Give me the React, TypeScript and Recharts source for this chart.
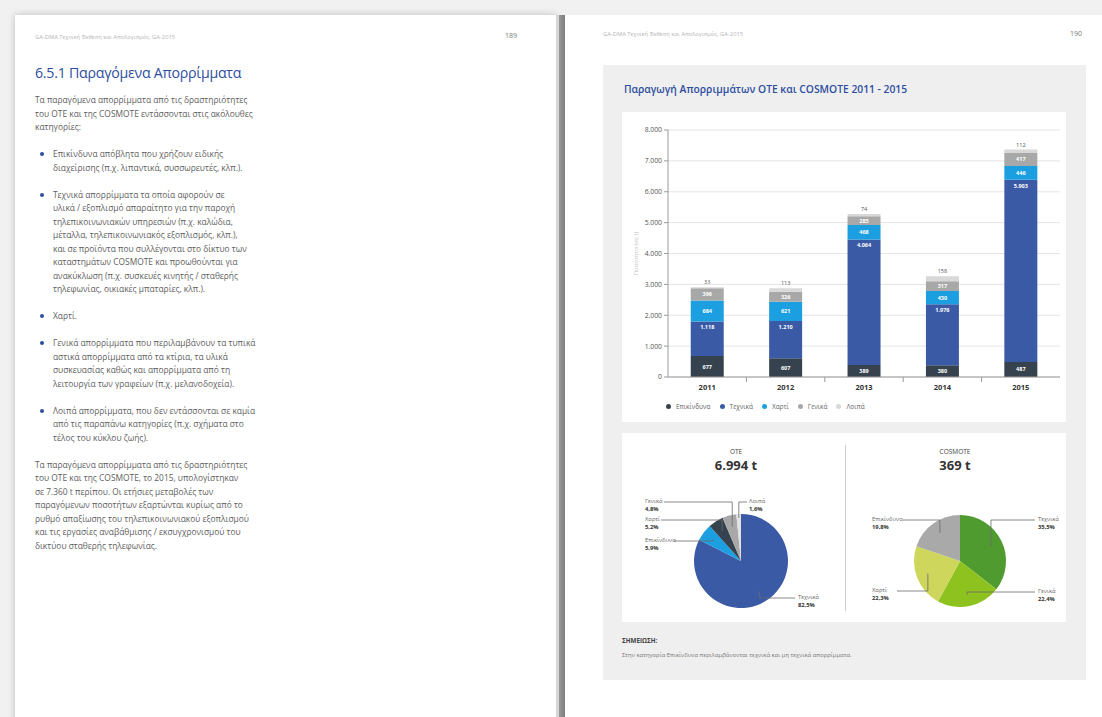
import React from 'react';
import {
  BarChart, Bar, XAxis, YAxis, CartesianGrid, Legend, LabelList,
  PieChart, Pie, Cell,
} from 'recharts';

// ---------- data ----------
const years = ['2011', '2012', '2013', '2014', '2015'];
const hazardous = [677, 607, 389, 380, 487];
const technical = [1118, 1210, 4064, 1976, 5903];
const paper = [684, 621, 468, 430, 446];
const general = [396, 326, 285, 317, 417];
const other = [33, 113, 74, 158, 112];
const yTicks = [0, 1000, 2000, 3000, 4000, 5000, 6000, 7000, 8000];

const seriesNames = ['Επικίνδυνα', 'Τεχνικά', 'Χαρτί', 'Γενικά', 'Λοιπά'];
const seriesColors = ['#36434f', '#3b5aa6', '#1b9fe0', '#a8a8a8', '#d8d8d8'];

const oteNames = ['Τεχνικά', 'Επικίνδυνα', 'Χαρτί', 'Γενικά', 'Λοιπά'];
const oteShares = [82.5, 5.9, 5.2, 4.8, 1.6];
const oteColors = ['#3b5aa6', '#1b9fe0', '#36434f', '#a8a8a8', '#e2e2e2'];
const oteTotal = '6.994 t';

const cosNames = ['Τεχνικά', 'Γενικά', 'Χαρτί', 'Επικίνδυνα'];
const cosShares = [35.5, 22.4, 22.3, 19.8];
const cosColors = ['#4f9b2f', '#8dc21f', '#cfd65c', '#a9a9a9'];
const cosTotal = '369 t';

// label layout (relative to pie centre)
const oteLabelLayout = [
  { r: 0.75, ly: 37, lx: 54, tx: 57 },
  { r: 0.75, ly: -20, lx: -67, tx: -96 },
  { r: 0.75, ly: -41, lx: -80, tx: -96 },
  { r: 0.75, ly: -59, lx: -77, tx: -96 },
  { r: 0.92, ly: -59, lx: 6, tx: 8 },
];
const cosLabelLayout = [
  { r: 0.75, ly: -41, lx: 75, tx: 78 },
  { r: 0.75, ly: 31, lx: 75, tx: 78 },
  { r: 0.75, ly: 30, lx: -63, tx: -88 },
  { r: 0.75, ly: -41, lx: -57, tx: -88 },
];

const fmt = (v: any) => {
  const n = Number(v);
  if (n >= 1000) return `${Math.floor(n / 1000)}.${String(n % 1000).padStart(3, '0')}`;
  return String(n);
};
const pct = (v: number) => `${v.toFixed(1).replace('.', ',')}%`;

const barData = years.map((y, i) => ({
  year: y,
  haz: hazardous[i],
  tech: technical[i],
  paper: paper[i],
  gen: general[i],
  other: other[i],
}));
const oteData = oteNames.map((n, i) => ({ name: n, value: oteShares[i] }));
const cosData = cosNames.map((n, i) => ({ name: n, value: cosShares[i] }));

const FONT = '"Open Sans", "Noto Sans", sans-serif';

const makePieLabel = (layout: any[], names: string[]) => (props: any) => {
  const { cx, cy, midAngle, outerRadius, index, value } = props;
  const L = layout[index];
  const RAD = Math.PI / 180;
  const r = outerRadius * L.r;
  const px = cx + r * Math.cos(-midAngle * RAD);
  const py = cy + r * Math.sin(-midAngle * RAD);
  const ly = cy + L.ly;
  const lx = cx + L.lx;
  const tx = cx + L.tx;
  return (
    <g key={`l-${index}`}>
      <polyline
        points={`${px},${py} ${px},${ly} ${lx},${ly}`}
        stroke="#6a6a6a"
        strokeWidth={0.8}
        fill="none"
      />
      <text x={tx} y={ly + 1} fontSize={5.8} fill="#666" fontFamily={FONT}>
        {names[index]}
      </text>
      <text x={tx} y={ly + 9} fontSize={5.8} fontWeight={700} fill="#333" fontFamily={FONT}>
        {pct(value)}
      </text>
    </g>
  );
};

const YearTick = (props: any) => {
  const { x, y, payload, index, width, visibleTicksCount } = props;
  const band = width / (visibleTicksCount || years.length);
  const bx = x + band / 2;
  return (
    <g>
      <text x={x} y={y} dy="0.71em" textAnchor="middle" fontSize={7.5} fontWeight={700} fill="#333" fontFamily={FONT}>
        {payload.value}
      </text>
      {index < (visibleTicksCount || years.length) - 1 && (
        <line x1={bx} x2={bx} y1={y - 8} y2={y - 3} stroke="#9a9a9a" strokeWidth={1} />
      )}
    </g>
  );
};

const renderLegend = () => (
  <div style={{ display: 'flex', alignItems: 'center', fontFamily: FONT, fontSize: 6.5, color: '#666' }}>
    {seriesNames.map((n, i) => (
      <div key={n} style={{ display: 'flex', alignItems: 'center', marginRight: 9 }}>
        <span
          style={{
            width: 5, height: 5, borderRadius: '50%', background: seriesColors[i],
            display: 'inline-block', marginRight: 5,
          }}
        />
        <span>{n}</span>
      </div>
    ))}
  </div>
);

const abs = (left: number, top: number, extra: any = {}) => ({ position: 'absolute' as const, left, top, ...extra });

const leftBlocks: { bullet: boolean; lines: string[] }[] = [
  {
    bullet: false,
    lines: [
      'Τα παραγόμενα απορρίμματα από τις δραστηριότητες',
      'του ΟΤΕ και της COSMOTE εντάσσονται στις ακόλουθες',
      'κατηγορίες:',
    ],
  },
  {
    bullet: true,
    lines: [
      'Επικίνδυνα απόβλητα που χρήζουν ειδικής',
      'διαχείρισης (π.χ. λιπαντικά, συσσωρευτές, κλπ.).',
    ],
  },
  {
    bullet: true,
    lines: [
      'Τεχνικά απορρίμματα τα οποία αφορούν σε',
      'υλικά / εξοπλισμό απαραίτητο για την παροχή',
      'τηλεπικοινωνιακών υπηρεσιών (π.χ. καλώδια,',
      'μέταλλα, τηλεπικοινωνιακός εξοπλισμός, κλπ.),',
      'και σε προϊόντα που συλλέγονται στο δίκτυο των',
      'καταστημάτων COSMOTE και προωθούνται για',
      'ανακύκλωση (π.χ. συσκευές κινητής / σταθερής',
      'τηλεφωνίας, οικιακές μπαταρίες, κλπ.).',
    ],
  },
  { bullet: true, lines: ['Χαρτί.'] },
  {
    bullet: true,
    lines: [
      'Γενικά απορρίμματα που περιλαμβάνουν τα τυπικά',
      'αστικά απορρίμματα από τα κτίρια, τα υλικά',
      'συσκευασίας καθώς και απορρίμματα από τη',
      'λειτουργία των γραφείων (π.χ. μελανοδοχεία).',
    ],
  },
  {
    bullet: true,
    lines: [
      'Λοιπά απορρίμματα, που δεν εντάσσονται σε καμία',
      'από τις παραπάνω κατηγορίες (π.χ. σχήματα στο',
      'τέλος του κύκλου ζωής).',
    ],
  },
  {
    bullet: false,
    lines: [
      'Τα παραγόμενα απορρίμματα από τις δραστηριότητες',
      'του ΟΤΕ και της COSMOTE, το 2015, υπολογίστηκαν',
      'σε 7.360 t περίπου. Οι ετήσιες μεταβολές των',
      'παραγόμενων ποσοτήτων εξαρτώνται κυρίως από το',
      'ρυθμό απαξίωσης του τηλεπικοινωνιακού εξοπλισμού',
      'και τις εργασίες αναβάθμισης / εκσυγχρονισμού του',
      'δικτύου σταθερής τηλεφωνίας.',
    ],
  },
];

const LH = 13.5;
const GAP = 27;

function LeftText() {
  let y = 100; // centre of first line
  const out: any[] = [];
  leftBlocks.forEach((b, bi) => {
    const top = y - LH / 2;
    out.push(
      <div key={bi} style={abs(b.bullet ? 53 : 35, top, { lineHeight: `${LH}px`, fontSize: 8.4, color: '#5e5e5e', whiteSpace: 'nowrap' })}>
        {b.bullet && (
          <span style={{ position: 'absolute', left: -13, top: 5, width: 4, height: 4, borderRadius: '50%', background: '#2d4e9f' }} />
        )}
        {b.lines.map((l, i) => <div key={i}>{l}</div>)}
      </div>
    );
    y += (b.lines.length - 1) * LH + GAP;
  });
  return <>{out}</>;
}

export default function App() {
  return (
    <div style={abs(0, 0, { width: 1102, height: 717, overflow: 'hidden', background: '#f1f1f1', fontFamily: FONT })}>
      {/* left page */}
      <div style={abs(15, 15, { width: 541, height: 710, background: '#fff', boxShadow: '0 0 7px rgba(0,0,0,0.22)' })} />
      {/* gutter */}
      <div style={abs(556, 15, { width: 3, height: 710, background: '#d6d6d6' })} />
      <div style={abs(559, 15, { width: 6, height: 710, background: 'linear-gradient(to right, #9a9a9a, #7c7c7c)' })} />
      {/* right page */}
      <div style={abs(565, 15, { width: 537, height: 710, background: '#fff' })} />

      {/* headers */}
      <div style={abs(35, 33, { fontSize: 5.8, color: '#b5b5b5', whiteSpace: 'nowrap' })}>GA-DMA Τεχνική Έκθεση και Απολογισμός, GA-2015</div>
      <div style={abs(505, 31, { fontSize: 7, color: '#777' })}>189</div>
      <div style={abs(603, 30, { fontSize: 5.8, color: '#b5b5b5', whiteSpace: 'nowrap' })}>GA-DMA Τεχνική Έκθεση και Απολογισμός, GA-2015</div>
      <div style={abs(1070, 29, { fontSize: 7, color: '#777' })}>190</div>

      {/* left page content */}
      <div style={abs(35, 63, { fontSize: 14.2, color: '#2d4e9f', whiteSpace: 'nowrap', letterSpacing: -0.25 })}>6.5.1 Παραγόμενα Απορρίμματα</div>
      <LeftText />

      {/* right panel */}
      <div style={abs(603, 65, { width: 483, height: 615, background: '#efefef' })} />
      <div style={abs(624, 82, { fontSize: 10.3, fontWeight: 600, color: '#2d4e9f', whiteSpace: 'nowrap' })}>
        Παραγωγή Απορριμμάτων OTE και COSMOTE 2011 - 2015
      </div>

      {/* bar card */}
      <div style={abs(622, 112, { width: 444, height: 310, background: '#fff' })}>
        <BarChart
          width={444}
          height={310}
          data={barData}
          margin={{ top: 18, right: 6, left: 0, bottom: 4 }}
          barCategoryGap="29%"
        >
          <CartesianGrid vertical={false} stroke="#e4e4e4" />
          <XAxis
            dataKey="year"
            height={24}
            axisLine={{ stroke: '#9a9a9a' }}
            tickLine={false}
            tick={<YearTick />}
          />
          <YAxis
            width={46}
            domain={[0, 8000]}
            ticks={yTicks}
            tickFormatter={fmt}
            axisLine={{ stroke: '#9a9a9a' }}
            tickLine={{ stroke: '#9a9a9a' }}
            tickSize={4}
            tick={{ fontSize: 6.8, fill: '#555', fontFamily: FONT }}
            label={{ value: 'Ποσότητα (σε t)', angle: -90, position: 'insideLeft', offset: 14, fontSize: 6, fill: '#c4c4c4', style: { textAnchor: 'middle' } }}
          />
          <Legend
            verticalAlign="bottom"
            align="left"
            wrapperStyle={{ left: 44, bottom: 3, height: 17 }}
            content={renderLegend}
          />
          <Bar dataKey="haz" name={seriesNames[0]} stackId="a" fill={seriesColors[0]} isAnimationActive={false}>
            <LabelList dataKey="haz" position="center" formatter={fmt} fill="#fff" fontSize={5.5} fontWeight={700} />
          </Bar>
          <Bar dataKey="tech" name={seriesNames[1]} stackId="a" fill={seriesColors[1]} isAnimationActive={false}>
            <LabelList dataKey="tech" position="insideTop" offset={4} formatter={fmt} fill="#fff" fontSize={5.5} fontWeight={700} />
          </Bar>
          <Bar dataKey="paper" name={seriesNames[2]} stackId="a" fill={seriesColors[2]} isAnimationActive={false}>
            <LabelList dataKey="paper" position="center" formatter={fmt} fill="#fff" fontSize={5.5} fontWeight={700} />
          </Bar>
          <Bar dataKey="gen" name={seriesNames[3]} stackId="a" fill={seriesColors[3]} isAnimationActive={false}>
            <LabelList dataKey="gen" position="center" formatter={fmt} fill="#fff" fontSize={5.5} fontWeight={700} />
          </Bar>
          <Bar dataKey="other" name={seriesNames[4]} stackId="a" fill={seriesColors[4]} isAnimationActive={false}>
            <LabelList dataKey="other" position="top" offset={3} formatter={fmt} fill="#555" fontSize={5.5} />
          </Bar>
        </BarChart>
      </div>

      {/* pie card */}
      <div style={abs(622, 433, { width: 444, height: 189, background: '#fff' })} />
      <div style={abs(845, 445, { width: 1, height: 166, background: '#cfcfcf' })} />

      <div style={abs(686, 447, { width: 100, textAlign: 'center', fontSize: 6.5, color: '#444' })}>OTE</div>
      <div style={abs(686, 456, { width: 100, textAlign: 'center', fontSize: 13, fontWeight: 700, color: '#333' })}>{oteTotal}</div>
      <div style={abs(905, 447, { width: 100, textAlign: 'center', fontSize: 6.5, color: '#444' })}>COSMOTE</div>
      <div style={abs(905, 456, { width: 100, textAlign: 'center', fontSize: 13, fontWeight: 700, color: '#333' })}>{cosTotal}</div>

      <div style={abs(625, 433)}>
        <PieChart width={220} height={189}>
          <Pie
            data={oteData}
            dataKey="value"
            cx={111}
            cy={123}
            outerRadius={47}
            startAngle={90}
            endAngle={-270}
            stroke="none"
            labelLine={false}
            label={makePieLabel(oteLabelLayout, oteNames)}
            isAnimationActive={false}
          >
            {oteData.map((d, i) => <Cell key={d.name} fill={oteColors[i]} />)}
          </Pie>
        </PieChart>
      </div>
      <div style={abs(846, 433)}>
        <PieChart width={220} height={189}>
          <Pie
            data={cosData}
            dataKey="value"
            cx={109}
            cy={123}
            outerRadius={46}
            startAngle={90}
            endAngle={-270}
            stroke="none"
            labelLine={false}
            label={makePieLabel(cosLabelLayout, cosNames)}
            isAnimationActive={false}
          >
            {cosData.map((d, i) => <Cell key={d.name} fill={cosColors[i]} />)}
          </Pie>
        </PieChart>
      </div>

      {/* note */}
      <div style={abs(622, 636, { fontSize: 6.3, fontWeight: 700, color: '#444', whiteSpace: 'nowrap' })}>ΣΗΜΕΙΩΣΗ:</div>
      <div style={abs(622, 651, { fontSize: 5.9, color: '#777', whiteSpace: 'nowrap' })}>
        Στην κατηγορία Επικίνδυνα περιλαμβάνονται τεχνικά και μη τεχνικά απορρίμματα.
      </div>
    </div>
  );
}
